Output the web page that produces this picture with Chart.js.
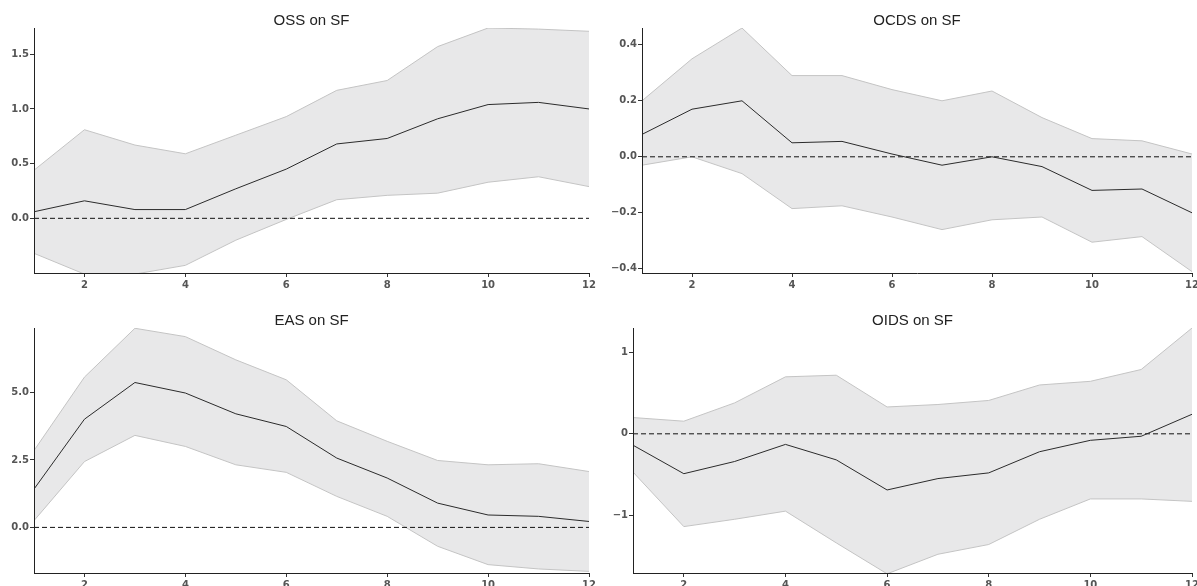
<!DOCTYPE html>
<html>
<head>
<meta charset="utf-8">
<script src="https://cdn.jsdelivr.net/npm/chart.js@4.4.1/dist/chart.umd.min.js"></script>
<style>
html,body{margin:0;padding:0;background:#fff;overflow:hidden;width:1197px;height:586px;}
.p{position:absolute;}
canvas{display:block;}
</style>
</head>
<body>
<div class="p" style="left:0px;top:0px"><canvas id="c1" width="598" height="293"></canvas></div>
<div class="p" style="left:598px;top:0px"><canvas id="c2" width="599" height="293"></canvas></div>
<div class="p" style="left:0px;top:300px"><canvas id="c3" width="598" height="293"></canvas></div>
<div class="p" style="left:598px;top:300px"><canvas id="c4" width="599" height="293"></canvas></div>
<script>
// ---- data ----
const horizons = [1, 2, 3, 4, 5, 6, 7, 8, 9, 10, 11, 12];
const xTicks = [2, 4, 6, 8, 10, 12];

const ossMean  = [0.06, 0.16, 0.08, 0.08, 0.27, 0.45, 0.68, 0.73, 0.91, 1.04, 1.06, 1.00];
const ossUpper = [0.44, 0.81, 0.67, 0.59, 0.76, 0.93, 1.17, 1.26, 1.57, 1.74, 1.73, 1.71];
const ossLower = [-0.32, -0.51, -0.51, -0.43, -0.20, -0.01, 0.17, 0.21, 0.23, 0.33, 0.38, 0.29];
const ossYTicks = [0.0, 0.5, 1.0, 1.5];

const ocdsMean  = [0.08, 0.17, 0.20, 0.05, 0.055, 0.01, -0.03, 0.00, -0.035, -0.12, -0.115, -0.20];
const ocdsUpper = [0.20, 0.35, 0.46, 0.29, 0.29, 0.24, 0.20, 0.235, 0.14, 0.065, 0.057, 0.01];
const ocdsLower = [-0.03, 0.00, -0.06, -0.185, -0.175, -0.215, -0.26, -0.225, -0.215, -0.305, -0.285, -0.41];
const ocdsYTicks = [-0.4, -0.2, 0.0, 0.2, 0.4];

const easMean  = [1.42, 4.01, 5.37, 4.98, 4.21, 3.74, 2.57, 1.83, 0.90, 0.46, 0.41, 0.22];
const easUpper = [2.85, 5.57, 7.38, 7.07, 6.21, 5.47, 3.95, 3.19, 2.48, 2.32, 2.36, 2.07];
const easLower = [0.25, 2.44, 3.41, 3.00, 2.32, 2.04, 1.15, 0.41, -0.70, -1.38, -1.54, -1.63];
const easYTicks = [0.0, 2.5, 5.0];

const oidsMean  = [-0.14, -0.49, -0.34, -0.13, -0.32, -0.69, -0.55, -0.48, -0.22, -0.08, -0.03, 0.24];
const oidsUpper = [0.20, 0.155, 0.38, 0.70, 0.72, 0.33, 0.36, 0.41, 0.60, 0.645, 0.79, 1.30];
const oidsLower = [-0.47, -1.14, -1.05, -0.95, -1.34, -1.72, -1.48, -1.36, -1.05, -0.80, -0.80, -0.83];
const oidsYTicks = [-1, 0, 1];

// ---- panels (layout/config) ----
const minus = s => s.replace('-', '\u2212');
const fmt1 = v => minus(Number(v).toFixed(1));
const fmt0 = v => minus(String(Math.round(v)));

const panels = [
  {id:'c1', title:'OSS on SF',  mean:ossMean,  upper:ossUpper,  lower:ossLower,  yTicks:ossYTicks,  yMin:-0.5,  yMax:1.74, fmt:fmt1, yW:34, padR:9},
  {id:'c2', title:'OCDS on SF', mean:ocdsMean, upper:ocdsUpper, lower:ocdsLower, yTicks:ocdsYTicks, yMin:-0.415, yMax:0.46, fmt:fmt1, yW:44, padR:5},
  {id:'c3', title:'EAS on SF',  mean:easMean,  upper:easUpper,  lower:easLower,  yTicks:easYTicks,  yMin:-1.69, yMax:7.39, fmt:fmt1, yW:34, padR:9},
  {id:'c4', title:'OIDS on SF', mean:oidsMean, upper:oidsUpper, lower:oidsLower, yTicks:oidsYTicks, yMin:-1.71, yMax:1.30, fmt:fmt0, yW:35, padR:5}
];

const pts = arr => arr.map((v, i) => ({x: horizons[i], y: v}));
const tickFont = {family: "'DejaVu Sans', sans-serif", size: 10, weight: 'bold'};

panels.forEach(p => {
  const ctx = document.getElementById(p.id).getContext('2d');
  new Chart(ctx, {
    type: 'line',
    data: {
      datasets: [
        {data: pts(p.lower), borderColor: '#c4c4c4', borderWidth: 1, pointRadius: 0, fill: false, order: 2, tension: 0},
        {data: pts(p.upper), borderColor: '#c4c4c4', borderWidth: 1, pointRadius: 0, backgroundColor: '#e8e8e9', fill: '-1', order: 3, tension: 0},
        {data: pts(p.mean), borderColor: '#2b2b2b', borderWidth: 1, pointRadius: 0, fill: false, order: 0, tension: 0},
        {data: [{x: horizons[0], y: 0}, {x: horizons[horizons.length - 1], y: 0}], borderColor: '#111', borderWidth: 1, borderDash: [5, 3], pointRadius: 0, fill: false, order: 1}
      ]
    },
    options: {
      responsive: false,
      animation: false,
      devicePixelRatio: 1,
      layout: {padding: {left: 0, right: p.padR, top: 0, bottom: 0}},
      plugins: {
        legend: {display: false},
        tooltip: {enabled: false},
        title: {
          display: true, text: p.title, fullSize: false, color: '#222',
          font: {family: "'Liberation Sans', Arial, sans-serif", size: 15, weight: 'normal', lineHeight: 1},
          padding: {top: 13, bottom: 0}
        }
      },
      scales: {
        x: {
          type: 'linear', min: horizons[0], max: horizons[horizons.length - 1],
          afterBuildTicks: axis => { axis.ticks = xTicks.map(v => ({value: v})); },
          afterFit: s => { s.height = 20; s.paddingLeft = 0; s.paddingRight = 0; },
          grid: {display: true, drawOnChartArea: false, drawTicks: true, tickLength: 4, color: '#333', z: 1},
          border: {display: true, color: '#222', width: 1, z: 1},
          ticks: {color: '#555', font: tickFont, padding: 2, maxRotation: 0, autoSkip: false, z: 1, callback: v => String(v)}
        },
        y: {
          type: 'linear', min: p.yMin, max: p.yMax,
          afterBuildTicks: axis => { axis.ticks = p.yTicks.map(v => ({value: v})); },
          afterFit: s => { s.width = p.yW; s.paddingTop = 0; s.paddingBottom = 0; },
          grid: {display: true, drawOnChartArea: false, drawTicks: true, tickLength: 4, color: '#333', z: 1},
          border: {display: true, color: '#222', width: 1, z: 1},
          ticks: {color: '#555', font: tickFont, padding: 1, autoSkip: false, z: 1, callback: v => p.fmt(v)}
        }
      }
    }
  });
});
</script>
</body>
</html>
